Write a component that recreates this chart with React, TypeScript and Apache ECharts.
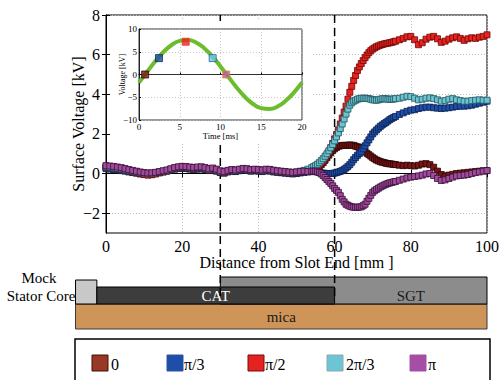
import React, { useEffect, useRef } from "react";
import * as echarts from "echarts";

// ---------- main chart data (distance in mm, surface voltage in kV) ----------
// sampling grid: 1 mm steps, 0.5 mm steps across the slot-end transition
const distance = [
  ...Array.from({ length: 55 }, (_, i) => i),
  ...Array.from({ length: 44 }, (_, i) => 54.5 + i * 0.5),
  ...Array.from({ length: 24 }, (_, i) => 77 + i),
];

const phase0 = [
  0.30, 0.28, 0.26, 0.24, 0.20, 0.16, 0.12, 0.08, 0.04, 0.00,
  -0.03, -0.05, -0.04, 0.00, 0.05, 0.10, 0.14, 0.20, 0.25, 0.28,
  0.30, 0.28, 0.26, 0.24, 0.26, 0.27, 0.22, 0.18, 0.20, 0.14,
  0.06, 0.04, 0.10, 0.14, 0.12, 0.16, 0.20, 0.18, 0.14, 0.16,
  0.14, 0.12, 0.16, 0.15, 0.10, 0.08, 0.06, 0.04, 0.02, 0.00,
  0.02, 0.05, 0.08, 0.10, 0.14,
  0.16, 0.20, 0.27, 0.35, 0.45, 0.55, 0.67, 0.80, 0.93, 1.05,
  1.16, 1.25, 1.32, 1.38, 1.40, 1.42, 1.42, 1.42, 1.43, 1.44,
  1.43, 1.42, 1.38, 1.35, 1.32, 1.28, 1.20, 1.10, 1.02, 0.95,
  0.88, 0.80, 0.74, 0.68, 0.64, 0.60, 0.57, 0.55, 0.52, 0.50,
  0.49, 0.48, 0.46, 0.45,
  0.42, 0.40, 0.42, 0.40, 0.38, 0.42, 0.48, 0.50, 0.45, 0.32,
  0.12, -0.05, -0.12, -0.08, -0.04, 0.00, 0.02, 0.04, 0.06, 0.08,
  0.10, 0.12, 0.14, 0.15,
];

const phasePi3 = [
  0.25, 0.22, 0.20, 0.18, 0.15, 0.12, 0.08, 0.05, 0.02, -0.02,
  -0.04, -0.05, -0.03, 0.00, 0.04, 0.08, 0.12, 0.18, 0.22, 0.25,
  0.26, 0.25, 0.22, 0.20, 0.22, 0.24, 0.20, 0.15, 0.18, 0.12,
  0.05, 0.02, 0.08, 0.12, 0.10, 0.14, 0.18, 0.16, 0.12, 0.14,
  0.12, 0.10, 0.14, 0.12, 0.08, 0.06, 0.04, 0.02, 0.00, -0.02,
  0.00, 0.03, 0.06, 0.08, 0.10,
  0.10, 0.10, 0.08, 0.05, 0.03, 0.02, 0.01, 0.00, 0.00, 0.00,
  0.01, 0.02, 0.05, 0.08, 0.11, 0.15, 0.21, 0.28, 0.36, 0.45,
  0.57, 0.70, 0.81, 0.92, 1.01, 1.10, 1.25, 1.40, 1.55, 1.70,
  1.85, 2.00, 2.10, 2.20, 2.29, 2.38, 2.45, 2.52, 2.58, 2.65,
  2.72, 2.78, 2.83, 2.88,
  2.98, 3.06, 3.14, 3.20, 3.22, 3.28, 3.32, 3.35, 3.35, 3.32,
  3.30, 3.28, 3.30, 3.32, 3.35, 3.38, 3.40, 3.40, 3.42, 3.45,
  3.50, 3.55, 3.60, 3.65,
];

const phasePi2 = [
  0.32, 0.30, 0.28, 0.25, 0.22, 0.18, 0.14, 0.10, 0.05, 0.00,
  -0.05, -0.08, -0.06, -0.02, 0.04, 0.08, 0.14, 0.20, 0.26, 0.30,
  0.32, 0.30, 0.27, 0.24, 0.28, 0.30, 0.24, 0.18, 0.22, 0.16,
  0.08, 0.05, 0.12, 0.16, 0.14, 0.18, 0.22, 0.20, 0.16, 0.18,
  0.16, 0.14, 0.18, 0.17, 0.12, 0.10, 0.08, 0.06, 0.04, 0.02,
  0.05, 0.08, 0.12, 0.16, 0.22,
  0.26, 0.32, 0.38, 0.45, 0.55, 0.65, 0.78, 0.92, 1.10, 1.30,
  1.52, 1.75, 1.97, 2.20, 2.50, 2.80, 3.10, 3.40, 3.75, 4.10,
  4.40, 4.70, 4.95, 5.20, 5.38, 5.55, 5.70, 5.85, 5.98, 6.10,
  6.20, 6.28, 6.34, 6.40, 6.44, 6.48, 6.51, 6.54, 6.56, 6.58,
  6.60, 6.62, 6.65, 6.68,
  6.75, 6.82, 6.90, 6.92, 6.75, 6.50, 6.60, 6.78, 6.88, 6.92,
  6.80, 6.62, 6.68, 6.78, 6.85, 6.90, 6.82, 6.72, 6.80, 6.85,
  6.82, 6.88, 6.92, 7.00,
];

const phase2Pi3 = [
  0.35, 0.33, 0.31, 0.28, 0.25, 0.21, 0.17, 0.13, 0.09, 0.05,
  0.02, 0.00, 0.01, 0.04, 0.08, 0.12, 0.16, 0.22, 0.28, 0.32,
  0.34, 0.33, 0.30, 0.28, 0.30, 0.32, 0.27, 0.21, 0.25, 0.19,
  0.11, 0.08, 0.14, 0.18, 0.16, 0.20, 0.24, 0.22, 0.18, 0.20,
  0.18, 0.16, 0.20, 0.19, 0.15, 0.12, 0.10, 0.08, 0.06, 0.05,
  0.08, 0.12, 0.16, 0.22, 0.30,
  0.35, 0.40, 0.47, 0.55, 0.65, 0.75, 0.87, 1.00, 1.15, 1.30,
  1.47, 1.65, 1.85, 2.05, 2.27, 2.50, 2.75, 3.00, 3.25, 3.45,
  3.57, 3.65, 3.70, 3.75, 3.78, 3.80, 3.80, 3.80, 3.79, 3.78,
  3.75, 3.72, 3.71, 3.70, 3.72, 3.75, 3.77, 3.78, 3.77, 3.75,
  3.75, 3.75, 3.76, 3.78,
  3.80, 3.85, 3.90, 3.88, 3.80, 3.72, 3.75, 3.80, 3.82, 3.78,
  3.72, 3.65, 3.68, 3.75, 3.78, 3.72, 3.68, 3.65, 3.65, 3.68,
  3.70, 3.72, 3.70, 3.70,
];

const phasePi = [
  0.40, 0.38, 0.36, 0.33, 0.30, 0.25, 0.20, 0.16, 0.12, 0.08,
  0.05, 0.03, 0.04, 0.06, 0.10, 0.14, 0.18, 0.24, 0.30, 0.34,
  0.36, 0.35, 0.33, 0.31, 0.33, 0.34, 0.30, 0.24, 0.28, 0.22,
  0.14, 0.10, 0.16, 0.20, 0.18, 0.22, 0.26, 0.24, 0.20, 0.22,
  0.20, 0.18, 0.22, 0.21, 0.17, 0.14, 0.12, 0.10, 0.08, 0.06,
  0.08, 0.10, 0.12, 0.10, 0.12,
  0.12, 0.12, 0.09, 0.05, -0.02, -0.10, -0.20, -0.30, -0.40, -0.50,
  -0.62, -0.75, -0.85, -0.95, -1.12, -1.30, -1.43, -1.55, -1.60, -1.65,
  -1.68, -1.70, -1.70, -1.70, -1.69, -1.68, -1.62, -1.55, -1.40, -1.25,
  -1.10, -0.95, -0.87, -0.80, -0.74, -0.68, -0.63, -0.58, -0.54, -0.50,
  -0.47, -0.45, -0.42, -0.40,
  -0.34, -0.28, -0.22, -0.18, -0.15, -0.12, -0.08, -0.02, 0.00, -0.10,
  -0.25, -0.35, -0.32, -0.25, -0.18, -0.12, -0.10, -0.08, -0.05, 0.00,
  0.05, 0.08, 0.12, 0.15,
];

const seriesNames = ["0", "π/3", "π/2", "2π/3", "π"];
const seriesValues = [phase0, phasePi3, phasePi2, phase2Pi3, phasePi];
const markerColors = ["#7a1515", "#1f50a8", "#e8231f", "#6dc3d0", "#a04c9c"];
const markerBorders = ["#2a0505", "#0c2050", "#6a0808", "#1f5560", "#3a0f38"];
const legendColors = ["#9a3826", "#1f4ea8", "#e52222", "#6cc5d2", "#a54ea6"];
const legendBorders = ["#3a1208", "#2a55a8", "#7a0a0a", "#8aa8b0", "#a54ea6"];

const yTicks = [-2, 0, 2, 4, 6, 8];
const slotLines = [30, 60];

// ---------- inset data (time in ms, voltage in kV) ----------
const insetTime = [0, 1, 2, 3, 4, 5, 6, 7, 8, 9, 10, 11, 12, 13, 14, 15, 16, 17, 18, 19, 20];
const insetVoltage = [
  -1.77, 0.6, 2.91, 4.94, 6.48, 7.39, 7.58, 7.02, 5.78, 3.97, 1.77,
  -0.6, -2.91, -4.94, -6.48, -7.39, -7.58, -7.02, -5.78, -3.97, -1.77,
];
const insetMarkTime = [0.75, 2.45, 5.73, 9.04, 10.7];
const insetMarkVoltage = [0, 3.6, 7.2, 3.6, 0];
const insetMarkColors = ["#7a1515", "#1f4fa0", "#ee2020", "#70c8d6", "#b060a8"];
const insetMarkBorders = ["#3a0a0a", "#0c2a60", "#ee3a2a", "#2060b0", "#e8842a"];

// ---------- stator layers (mm along x) ----------
const coreRange = [-8, -2.4];
const catRange = [-2.4, 60];
const sgtRange = [30, 100];
const sgtLabelRange = [60, 100];
const micaRange = [-8, 100];

const FONT = "'Liberation Serif', 'Times New Roman', 'DejaVu Serif', serif";
const minus = (v: any) => String(v).replace("-", "\u2212");

export default function App() {
  const ref = useRef<HTMLDivElement>(null);

  useEffect(() => {
    const chart = echarts.init(ref.current!, null, { renderer: "svg" });

    const mainAxisBase = {
      axisLine: { show: true, lineStyle: { color: "#000", width: 1 } },
      axisTick: { show: true, inside: true, length: 4, lineStyle: { color: "#000" } },
    };

    const option: any = {
      animation: false,
      textStyle: { fontFamily: FONT, color: "#000" },
      grid: [
        { left: 106, top: 15, width: 384, height: 218, show: true, borderColor: "#000", borderWidth: 1 },
        { left: 139, top: 29, width: 163, height: 91, show: true, borderColor: "#000", borderWidth: 0.8, backgroundColor: "#fff", z: 10 },
      ],
      xAxis: [
        {
          ...mainAxisBase,
          type: "value", gridIndex: 0, min: 0, max: 100, interval: 20, position: "bottom",
          axisLabel: { fontSize: 16, fontFamily: FONT, color: "#000", margin: 5 },
          splitLine: { show: true, lineStyle: { color: "#bdbdbd", type: [1, 2], width: 1 } },
          name: "Distance from Slot End [mm ]", nameLocation: "middle", nameGap: 21.5, nameMoveOverlap: false,
          nameTextStyle: { fontSize: 16, fontFamily: FONT, color: "#000" },
        },
        {
          ...mainAxisBase,
          type: "value", gridIndex: 0, min: 0, max: 100, interval: 20, position: "top",
          axisLabel: { show: false }, splitLine: { show: false },
        },
        {
          type: "value", gridIndex: 1, min: 0, max: 20, interval: 5, z: 10,
          axisLine: { show: true, lineStyle: { color: "#000", width: 0.8 } },
          axisTick: { show: true, inside: true, length: 2, lineStyle: { color: "#000" } },
          axisLabel: { fontSize: 9, fontFamily: FONT, color: "#000", margin: 2 },
          splitLine: { show: true, lineStyle: { color: "#bdbdbd", type: [1, 2], width: 0.8 } },
          name: "Time [ms]", nameLocation: "middle", nameGap: 11, nameMoveOverlap: false,
          nameTextStyle: { fontSize: 8.5, fontFamily: FONT, color: "#000" },
        },
      ],
      yAxis: [
        {
          ...mainAxisBase,
          type: "value", gridIndex: 0, min: -3, max: 8, position: "left",
          axisTick: { show: true, inside: true, length: 4, lineStyle: { color: "#000" }, customValues: yTicks },
          axisLabel: { fontSize: 16, fontFamily: FONT, color: "#000", margin: 6, customValues: yTicks, formatter: minus },
          splitLine: { show: true, lineStyle: { color: "#bdbdbd", type: [1, 2], width: 1 } },
          name: "Surface Voltage [kV]", nameLocation: "middle", nameGap: 20, nameRotate: 90, nameMoveOverlap: false,
          nameTextStyle: { fontSize: 16, fontFamily: FONT, color: "#000" },
        },
        {
          ...mainAxisBase,
          type: "value", gridIndex: 0, min: -3, max: 8, position: "right",
          axisTick: { show: true, inside: true, length: 4, lineStyle: { color: "#000" }, customValues: yTicks },
          axisLabel: { show: false }, splitLine: { show: false },
        },
        {
          type: "value", gridIndex: 1, min: -10, max: 10, interval: 5, z: 10,
          axisLine: { show: true, lineStyle: { color: "#000", width: 0.8 } },
          axisTick: { show: true, inside: true, length: 2, lineStyle: { color: "#000" } },
          axisLabel: { fontSize: 9, fontFamily: FONT, color: "#000", margin: 2, formatter: minus },
          splitLine: { show: true, lineStyle: { color: "#bdbdbd", type: [1, 2], width: 0.8 } },
          name: "Voltage [kV]", nameLocation: "middle", nameGap: 13, nameRotate: 90, nameMoveOverlap: false,
          nameTextStyle: { fontSize: 8, fontFamily: FONT, color: "#000" },
        },
      ],
      series: [
        ...seriesValues.map((vals, k) => ({
          type: "scatter",
          name: seriesNames[k],
          xAxisIndex: 0,
          yAxisIndex: 0,
          symbol: "rect",
          symbolSize: 6,
          z: 2,
          itemStyle: { color: markerColors[k], borderColor: markerBorders[k], borderWidth: 0.8, opacity: 1 },
          data: distance.map((d, i) => [d, vals[i]]),
        })),
        {
          type: "line",
          xAxisIndex: 2,
          yAxisIndex: 2,
          smooth: true,
          showSymbol: false,
          z: 11,
          lineStyle: { color: "#6cbd2d", width: 4 },
          data: insetTime.map((t, i) => [t, insetVoltage[i]]),
        },
        {
          type: "scatter",
          xAxisIndex: 2,
          yAxisIndex: 2,
          symbol: "rect",
          symbolSize: 7,
          z: 12,
          data: insetMarkTime.map((t, i) => ({
            value: [t, insetMarkVoltage[i]],
            itemStyle: { color: insetMarkColors[i], borderColor: insetMarkBorders[i], borderWidth: 1 },
          })),
        },
      ],
    };

    chart.setOption(option);

    const px = (v: number) => chart.convertToPixel({ xAxisIndex: 0 }, v) as number;
    const rect = (r: number[], y: number, h: number, fill: string, stroke: string, z = 0) => ({
      type: "rect",
      z,
      shape: { x: px(r[0]), y, width: px(r[1]) - px(r[0]), height: h },
      style: { fill, stroke, lineWidth: 1 },
    });
    const label = (x: number, y: number, text: string, fill: string, size = 15, align = "center") => ({
      type: "text",
      z: 1,
      x,
      y,
      style: { text, fill, fontSize: size, fontFamily: FONT, align, verticalAlign: "middle" },
    });

    const graphic: any[] = [
      { type: "rect", z: 9, shape: { x: 110, y: 21, width: 202, height: 121 }, style: { fill: "#fff" } },
      rect(micaRange, 304, 25, "#cf9458", "#3a3a3a"),
      rect(coreRange, 280, 24, "#c8c8c8", "#000"),
      rect(sgtRange, 277, 27, "#8c8c8c", "#000"),
      rect(catRange, 287, 17, "#3d3d3d", "#000"),
      label((px(catRange[0]) + px(catRange[1])) / 2, 296, "CAT", "#fff"),
      label((px(sgtLabelRange[0]) + px(sgtLabelRange[1])) / 2, 296, "SGT", "#1a1a1a"),
      label((px(micaRange[0]) + px(micaRange[1])) / 2, 317, "mica", "#1a1a1a"),
      label(39, 278, "Mock", "#000"),
      label(41, 296, "Stator Core", "#000"),
      ...slotLines.map((v) => ({
        type: "line",
        z: 1,
        shape: { x1: px(v), y1: 15, x2: px(v), y2: 298 },
        style: { stroke: "#000", lineWidth: 1.5, lineDash: [8, 5] },
      })),
      { type: "rect", z: 1, shape: { x: 75, y: 339, width: 415, height: 60 }, style: { fill: "none", stroke: "#000", lineWidth: 1.5 } },
    ];

    const legendSwatchX = [92, 167, 248, 327, 410];
    const legendTextX = [111, 184, 265, 346, 428];
    seriesNames.forEach((name, k) => {
      graphic.push({
        type: "rect",
        z: 1,
        shape: { x: legendSwatchX[k], y: 355, width: 16, height: 16 },
        style: { fill: legendColors[k], stroke: legendBorders[k], lineWidth: 1 },
      });
      graphic.push(label(legendTextX[k], 364, name, "#000", 16, "left"));
    });

    chart.setOption({ graphic });

    return () => chart.dispose();
  }, []);

  return <div ref={ref} style={{ position: "absolute", left: 0, top: 0, width: 502, height: 380 }} />;
}
